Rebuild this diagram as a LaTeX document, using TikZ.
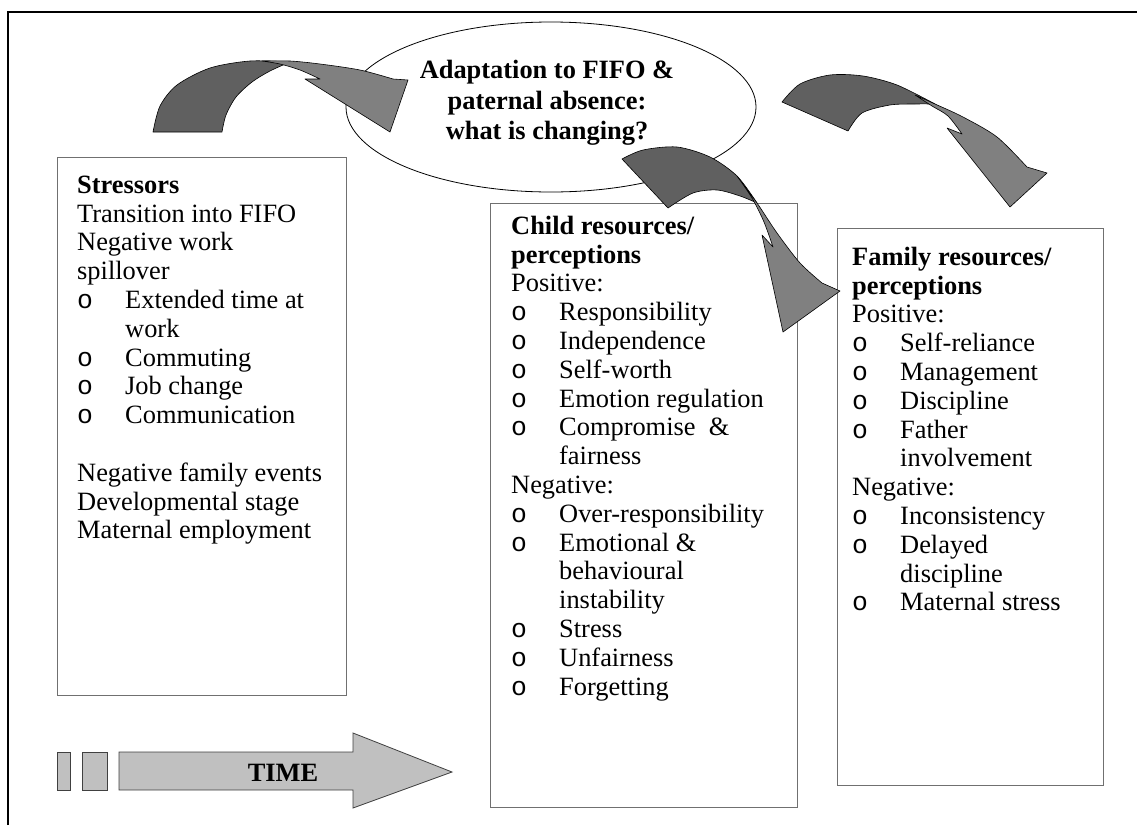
\documentclass[tikz,border=0pt]{standalone}
\usepackage{fontspec}
\setmainfont{Liberation Serif}
\newfontfamily\bulletfont{Liberation Mono}
\usetikzlibrary{shapes.geometric}
\definecolor{darkarrow}{HTML}{606060}
\definecolor{lightarrow}{HTML}{808080}
\definecolor{timegray}{HTML}{C0C0C0}
\definecolor{boxgray}{HTML}{707070}
\newcommand\bul{\makebox[48pt][l]{\bulletfont o}}
\newcommand\ind{\hspace*{48pt}}
\begin{document}
\begin{tikzpicture}[x=1pt,y=-1pt,
  box/.style={draw=boxgray, line width=1.3pt, fill=white, anchor=north west, inner sep=0pt},
  txt/.style={anchor=north west, inner sep=0pt, align=left, font=\fontsize{26.4}{28.8}\selectfont},
  darkpart/.style={fill=darkarrow, draw=black, line width=0.6pt, line join=round},
  lightpart/.style={fill=lightarrow, draw=black, line width=0.6pt, line join=round},
  timepart/.style={fill=timegray, draw=black!75, line width=0.8pt}]
\useasboundingbox (0,0) rectangle (1137,825);
% frame
\draw[line width=2.5pt] (8,825) -- (8,12) -- (1137,12);
% ellipse
\node[draw, ellipse, fill=white, line width=0.8pt, minimum width=410pt, minimum height=170pt, inner sep=0pt] (ell) at (551,107) {};
\node[align=center, font=\bfseries\fontsize{26.4}{30.5}\selectfont] (etxt) at (547,103) {Adaptation to FIFO \&\\paternal absence:\\what is changing?};
% boxes
\node[box, minimum width=289pt, minimum height=538pt] (sbox) at (57,157) {};
\node[box, minimum width=307pt, minimum height=604pt] (cbox) at (490,203) {};
\node[box, minimum width=266pt, minimum height=557pt] (fbox) at (837,228) {};
\node[txt] (stxt) at (77,173) {\strut\textbf{Stressors}\\
Transition into FIFO\\
Negative work\\
spillover\\
\bul Extended time at\\
\ind work\\
\bul Commuting\\
\bul Job change\\
\bul Communication\\
\strut\\
Negative family events\\
Developmental stage\\
Maternal employment};
\node[txt] (ctxt) at (511,214) {\strut\textbf{Child resources/}\\
\textbf{perceptions}\\
Positive:\\
\bul Responsibility\\
\bul Independence\\
\bul Self-worth\\
\bul Emotion regulation\\
\bul Compromise\ \ \&\\
\ind fairness\\
Negative:\\
\bul Over-responsibility\\
\bul Emotional \&\\
\ind behavioural\\
\ind instability\\
\bul Stress\\
\bul Unfairness\\
\bul Forgetting};
\node[txt] (ftxt) at (852,245) {\strut\textbf{Family resources/}\\
\textbf{perceptions}\\
Positive:\\
\bul Self-reliance\\
\bul Management\\
\bul Discipline\\
\bul Father\\
\ind involvement\\
Negative:\\
\bul Inconsistency\\
\bul Delayed\\
\ind discipline\\
\bul Maternal stress};
% left curved arrow
\filldraw[darkpart] plot[smooth] coordinates {(153,132) (160,106) (177,85) (210,68) (250,61) (290,62)}
  -- plot[smooth] coordinates {(290,62) (270,71) (252,82) (236,97) (226,115) (222,132)} -- cycle;
\filldraw[lightpart] plot[smooth] coordinates {(262,61) (290,61) (320,64) (360,70) (393,79)}
  -- (408,80) -- (390,132) -- (305,79) -- (320,79)
  -- plot[smooth] coordinates {(320,79) (300,70) (280,64) (262,61)} -- cycle;
% middle curved arrow
\filldraw[darkpart] plot[smooth] coordinates {(622,159) (643,150) (677,147) (710,157) (737,176) (757,203)}
  -- plot[smooth] coordinates {(757,203) (740,196) (717,190) (693,193) (668,208)} -- cycle;
\filldraw[lightpart] plot[smooth] coordinates {(737,176) (757,203) (777,233) (800,263) (822,283)}
  -- (840,291) -- (783,332) -- (762,235) -- (773,247)
  -- plot[smooth] coordinates {(773,247) (764,222) (752,198) (737,176)} -- cycle;
% right curved arrow
\filldraw[darkpart] plot[smooth] coordinates {(782,102) (800,84) (830,75) (863,76) (897,85) (935,104)}
  -- plot[smooth] coordinates {(935,104) (915,104) (890,105) (862,113) (848,131)} -- cycle;
\filldraw[lightpart] plot[smooth] coordinates {(915,95) (935,104) (963,117) (997,137) (1027,167)}
  -- (1047,173) -- (1010,207) -- (947,128) -- (962,134)
  -- plot[smooth] coordinates {(962,134) (948,116) (932,106) (915,95)} -- cycle;
% time arrow
\filldraw[timepart] (57,752) rectangle (70,790);
\filldraw[timepart] (82,752) rectangle (107,790);
\filldraw[timepart] (119,752) -- (353,752) -- (353,733) -- (452,772) -- (353,808) -- (353,790) -- (119,790) -- cycle;
\node[font=\bfseries\fontsize{26.4}{30}\selectfont] (time) at (283,773) {TIME};
\end{tikzpicture}
\end{document}
